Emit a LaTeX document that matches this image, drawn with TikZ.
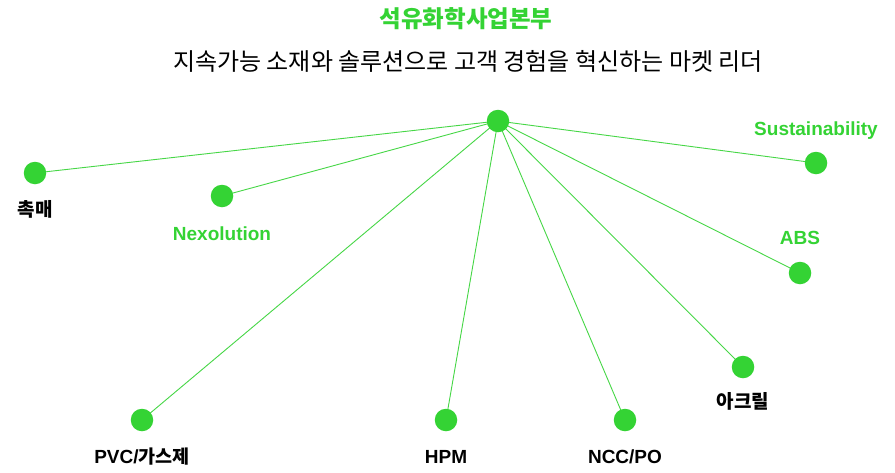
\documentclass[tikz,border=0pt]{standalone}
\usepackage{fontspec}
\setmainfont{Noto Sans CJK KR}
\newfontfamily\cjk{Noto Sans CJK KR}
\newfontfamily\lat{Liberation Sans}
\definecolor{mygreen}{RGB}{52,211,52}
\definecolor{linegreen}{RGB}{70,215,70}
\begin{document}
\begin{tikzpicture}[x=1pt,y=-1pt,
  dot/.style={circle,fill=mygreen,draw=none,minimum size=22.5pt,inner sep=0pt},
  link/.style={draw=linegreen,line width=0.9pt},
  glab/.style={anchor=base,inner sep=0pt,text=mygreen,font=\lat\bfseries\fontsize{19}{22}\selectfont},
  blab/.style={anchor=base,inner sep=0pt,text=black,font=\lat\bfseries\fontsize{19}{22}\selectfont},
  klab/.style={anchor=base,inner sep=0pt,text=black,font=\cjk\bfseries\fontsize{19}{22}\selectfont}]
\useasboundingbox (0,0) rectangle (895,472);
\fill[white] (0,0) rectangle (895,472);
% title
\node[anchor=base,inner sep=0pt,text=mygreen,font=\cjk\bfseries\fontsize{23.5}{26}\selectfont] (title) at (466,27.5) {석유화학사업본부};
\node[anchor=base,inner sep=0pt,text=black,font=\cjk\fontsize{24}{28}\selectfont] (subtitle) at (468,70.5) {지속가능 소재와 솔루션으로 고객 경험을 혁신하는 마켓 리더};
% dots
\coordinate (pc) at (498,121);
\coordinate (p1) at (35,173);
\coordinate (p2) at (222,196);
\coordinate (p3) at (816,163);
\coordinate (p4) at (800,273);
\coordinate (p5) at (743,367);
\coordinate (p6) at (625,420);
\coordinate (p7) at (446,420);
\coordinate (p8) at (142,420);
\foreach \i in {1,...,8} \draw[link] (pc) -- (p\i);
\node[dot] (center) at (pc) {};
\node[dot] (catalyst) at (p1) {};
\node[dot] (nexo) at (p2) {};
\node[dot] (sust) at (p3) {};
\node[dot] (abs) at (p4) {};
\node[dot] (acryl) at (p5) {};
\node[dot] (nccpo) at (p6) {};
\node[dot] (hpm) at (p7) {};
\node[dot] (pvc) at (p8) {};
% labels
\node[klab] (l1) at (35,216.5) {촉매};
\node[glab] (l2) at (222,240) {Nexolution};
\node[glab] (l3) at (816,135) {Sustainability};
\node[glab] (l4) at (800,244) {ABS};
\node[klab] (l5) at (743,408) {아크릴};
\node[blab] (l6) at (625,463) {NCC/PO};
\node[blab] (l7) at (446,463) {HPM};
\node[blab] (l8) at (142,463) {PVC/{\cjk\fontsize{18.5}{21}\selectfont 가스제}};
\end{tikzpicture}
\end{document}
